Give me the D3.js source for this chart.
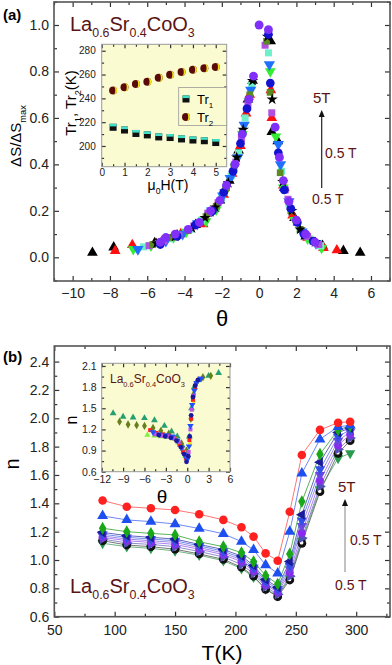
<!DOCTYPE html>
<html>
<head>
<meta charset="utf-8">
<script src="https://cdnjs.cloudflare.com/ajax/libs/d3/7.8.5/d3.min.js"></script>
<style>
body { margin: 0; background: #fff; }
svg text { font-family: "Liberation Sans", Arial, sans-serif; }
</style>
</head>
<body>
<div id="chart"></div>
<script>
var svgWidth = 392;
var svgHeight = 665;

// ---------- panel (a): dS/dSmax vs theta, one array per field ----------
var fieldsA = ["0.5T", "1T", "1.5T", "2T", "2.5T", "3T", "3.5T", "4T", "4.5T", "5T"];
var a05 = [[-8.94,0.02],[-7.8,0.043],[-5.6,0.062],[-4.4,0.095],[-3.4,0.14],[-2.7,0.19],[-2.1,0.245],[-1.6,0.33],[-1.1,0.46],[-0.6,0.68],[-0.35,0.76],[0.62,0.93],[0.68,0.54],[1.0,0.5],[1.35,0.3],[1.9,0.17],[2.5,0.09],[3.4,0.05],[4.52,0.028],[5.42,0.02]];
var a1 = [[-7.72,0.028],[-6.8,0.053],[-5.2,0.07],[-4.2,0.1],[-3.0,0.143],[-2.4,0.21],[-1.9,0.27],[-1.45,0.36],[-1.0,0.48],[-0.7,0.62],[-0.5,0.7],[0.63,0.72],[0.68,0.6],[1.3,0.31],[1.8,0.18],[2.6,0.085],[3.45,0.04],[4.17,0.031]];
var a15 = [[-6.75,0.035],[-5.8,0.05],[-4.6,0.085],[-3.9,0.11],[-2.85,0.155],[-2.3,0.205],[-1.85,0.28],[-1.3,0.39],[-0.9,0.53],[-0.55,0.67],[0.6,0.8],[0.9,0.52],[1.3,0.3],[1.9,0.16],[2.6,0.08],[3.35,0.04]];
var a2 = [[-6.2,0.045],[-5.4,0.06],[-4.8,0.08],[-3.7,0.12],[-3.1,0.16],[-2.6,0.2],[-2.0,0.255],[-1.5,0.35],[-1.1,0.45],[-0.75,0.6],[-0.4,0.74],[0.5,0.88],[0.86,0.56],[1.2,0.37],[1.6,0.23],[2.2,0.12],[2.85,0.07],[3.3,0.05]];
var a25 = [[-6.5,0.035],[-5.0,0.07],[-4.1,0.1],[-3.3,0.145],[-2.55,0.2],[-1.95,0.265],[-1.55,0.34],[-1.15,0.43],[-0.8,0.57],[-0.45,0.72],[0.55,0.83],[1.03,0.487],[1.15,0.4],[1.6,0.24],[2.3,0.11],[3.05,0.06]];
var a3 = [[-5.9,0.05],[-5.1,0.07],[-4.3,0.095],[-3.5,0.135],[-2.75,0.19],[-2.2,0.235],[-1.75,0.3],[-1.25,0.41],[-0.95,0.51],[-0.6,0.66],[0.32,0.913],[0.68,0.622],[1.4,0.29],[1.55,0.25],[2.0,0.15],[2.6,0.09],[3.2,0.055]];
var a35 = [[-5.7,0.055],[-4.7,0.085],[-3.8,0.115],[-2.85,0.175],[-2.3,0.22],[-1.8,0.295],[-1.35,0.385],[-0.9,0.54],[-0.5,0.7],[0.4,0.93],[0.59,0.71],[1.13,0.364],[1.7,0.2],[2.2,0.12],[2.9,0.07]];
var a4 = [[-5.5,0.06],[-4.5,0.09],[-3.6,0.125],[-2.9,0.17],[-2.35,0.215],[-1.65,0.32],[-1.2,0.43],[-0.85,0.55],[-0.35,0.76],[0.45,0.95],[0.7,0.68],[1.27,0.325],[1.75,0.2],[2.2,0.12],[3.0,0.065]];
var a45 = [[-5.3,0.055],[-4.4,0.09],[-3.4,0.14],[-2.5,0.2],[-1.9,0.28],[-1.4,0.37],[-1.0,0.49],[-0.65,0.64],[0.5,0.96],[0.6,0.75],[1.03,0.45],[1.35,0.29],[1.7,0.21],[2.05,0.15],[2.4,0.1],[2.9,0.07]];
var a5 = [[-5.3,0.065],[-5.0,0.085],[-4.5,0.1],[-3.8,0.12],[-3.2,0.15],[-2.6,0.2],[-2.1,0.245],[-1.75,0.31],[-1.3,0.4],[-0.9,0.53],[-0.55,0.68],[-0.3,0.78],[0,1.0],[0.5,0.98],[0.86,0.56],[1.09,0.43],[1.3,0.33],[1.6,0.24],[2.0,0.16],[2.5,0.1],[3.0,0.065]];

// inset (a): transition temperatures vs field
var fieldH = [0.5, 1, 1.5, 2, 2.5, 3, 3.5, 4, 4.5, 5];
var tr1 = [215.7, 213.4, 210.5, 209.3, 207.6, 207.1, 205.9, 205.0, 204.4, 202.9];
var tr2 = [246.5, 249.3, 252.1, 254.0, 257.4, 259.9, 262.2, 264.1, 265.3, 266.4];

// ---------- panel (b): n vs T ----------
var tempB = [90, 110, 130, 150, 170, 190, 205, 215, 225, 235, 245, 255, 270, 285, 295];
var b5T  = [1.42,1.376,1.365,1.353,1.323,1.283,1.231,1.165,1.047,0.995,1.341,1.741,1.918,1.969,1.976];
var b45T = [1.311,1.283,1.271,1.254,1.222,1.185,1.13,1.071,0.965,0.906,1.2,1.612,1.852,1.94,1.95];
var b4T  = [1.224,1.2,1.188,1.177,1.129,1.094,1.052,0.988,0.89,0.83,1.043,1.412,1.746,1.918,1.946];
var b35T = [1.195,1.172,1.16,1.148,1.11,1.074,1.028,0.962,0.862,0.808,0.99,1.32,1.69,1.9,1.93];
var b3T  = [1.182,1.16,1.148,1.136,1.1,1.062,1.015,0.948,0.85,0.795,0.96,1.28,1.64,1.87,1.92];
var b25T = [1.17,1.148,1.136,1.124,1.088,1.05,1.002,0.935,0.836,0.782,0.935,1.24,1.6,1.84,1.905];
var b2T  = [1.16,1.136,1.124,1.11,1.076,1.038,0.988,0.922,0.824,0.772,0.91,1.19,1.56,1.81,1.885];
var b15T = [1.148,1.12,1.11,1.094,1.06,1.022,0.968,0.905,0.81,0.757,0.885,1.155,1.52,1.78,1.86];
var b1T  = [1.118,1.094,1.082,1.064,1.034,0.995,0.94,0.88,0.796,0.748,0.872,1.135,1.5,1.718,1.753];
var b05T = [1.136,1.106,1.094,1.076,1.043,1.005,0.949,0.887,0.793,0.741,0.859,1.118,1.482,1.753,1.842];

// inset (b): n vs theta
var ibTri = [[-10.4,1.43],[-9.0,1.38],[-7.6,1.37],[-6.0,1.36],[-4.6,1.33],[-3.2,1.25],[-2.2,1.17],[-1.4,1.1],[-0.7,0.97],[0.3,1.1],[0.6,1.5],[1.0,1.8],[1.6,1.9],[3.0,1.96],[4.4,2.0]];
var ibDia = [[-9.5,1.31],[-8.3,1.27],[-7.1,1.26],[-6.0,1.25],[-4.8,1.22],[-3.7,1.18],[-2.6,1.14],[-1.7,1.07],[-0.8,1.0],[-0.1,0.9],[0.5,1.35],[0.9,1.7],[1.4,1.88],[2.2,1.94],[3.3,1.96]];
var ibRed = [[-5.2,1.19],[-4.3,1.15],[-3.4,1.13],[-2.5,1.11],[-1.8,1.07],[-1.1,0.98],[-0.6,0.88],[-0.2,0.79],[0.3,1.05],[0.55,1.35],[0.8,1.62],[1.1,1.8],[1.5,1.9]];
var ibBlue = [[-4.8,1.16],[-3.9,1.13],[-3.0,1.12],[-2.1,1.1],[-1.4,1.04],[-0.8,0.94],[-0.35,0.84],[0.0,0.77],[0.25,0.96],[0.45,1.25],[0.7,1.55],[1.0,1.75],[1.3,1.86],[1.9,1.92]];
var ibMag = [[-4.5,1.13],[-3.6,1.11],[-2.8,1.1],[-1.9,1.08],[-1.2,1.02],[-0.7,0.93],[-0.3,0.83],[0.2,0.88],[0.45,1.2],[0.65,1.48],[0.9,1.68],[1.2,1.84],[1.7,1.92]];
var ibNavy = [[-4.0,1.12],[-3.1,1.1],[-2.3,1.08],[-1.5,1.04],[-0.9,0.95],[-0.45,0.85],[-0.1,0.74],[0.15,0.82],[0.35,1.1],[0.55,1.4],[0.8,1.66],[1.1,1.82],[1.5,1.9]];
var ibLime = [[-5.6,1.12],[-4.6,1.11],[-3.7,1.1],[-2.8,1.09],[-2.0,1.07],[-1.3,1.01],[-0.7,0.92],[-0.3,0.82]];
var ibYellow = [[-3.3,1.14],[-1.6,1.06],[-0.5,0.88],[0.4,1.0],[0.9,1.6]];

// ---------- helpers ----------
var svg = d3.select("#chart").append("svg")
  .attr("width", svgWidth)
  .attr("height", svgHeight);

var dark = "#5a1414";

var symbols = {
  circle: [d3.symbolCircle, 0], tri: [d3.symbolTriangle, 0], triDown: [d3.symbolTriangle, 180],
  triLeft: [d3.symbolTriangle, -90], triRight: [d3.symbolTriangle, 90],
  square: [d3.symbolSquare, 0], diamond: [d3.symbolDiamond, 0], star: [d3.symbolStar, 0]
};

function marks(g, data, xs, ys, sym, color, size) {
  var s = symbols[sym] || symbols.circle;
  g.selectAll(null).data(data).enter().append("path")
    .attr("d", d3.symbol().type(s[0]).size(size))
    .attr("transform", d => `translate(${xs(d[0])},${ys(d[1])}) rotate(${s[1]})`)
    .attr("fill", color);
}

function rich(t, parts, fs) {
  var shift = 0;
  parts.forEach(function(p) {
    var s = p[1] ? fs * 0.3 : 0;
    t.append("tspan").attr("dy", s - shift).attr("font-size", p[1] ? fs * 0.62 : fs).text(p[0]);
    shift = s;
  });
}

function axes(g, x, y, w, h, o) {
  var tl = o.tick, ml = o.tick * 0.6;
  var add = function(ax, tr) {
    var a = g.append("g").attr("transform", tr).call(ax);
    a.select(".domain").remove();
    a.selectAll("line").attr("stroke", "#333").attr("stroke-width", 1.2);
    a.selectAll("text").attr("font-size", o.fs).attr("font-family", "Liberation Sans, Arial, sans-serif").attr("fill", "#222");
    return a;
  };
  add(d3.axisBottom(x).tickValues(o.xt).tickSizeInner(-tl).tickSizeOuter(0).tickPadding(o.xpad).tickFormat(o.xf || d3.format("d")), `translate(0,${h})`);
  add(d3.axisBottom(x).tickValues(o.xm).tickSizeInner(-ml).tickSizeOuter(0).tickFormat(""), `translate(0,${h})`);
  add(d3.axisTop(x).tickValues(o.xt).tickSizeInner(-tl).tickSizeOuter(0).tickFormat(""), "translate(0,0)");
  add(d3.axisTop(x).tickValues(o.xm).tickSizeInner(-ml).tickSizeOuter(0).tickFormat(""), "translate(0,0)");
  add(d3.axisLeft(y).tickValues(o.yt).tickSizeInner(-tl).tickSizeOuter(0).tickPadding(o.ypad).tickFormat(o.yf), "translate(0,0)");
  add(d3.axisLeft(y).tickValues(o.ym).tickSizeInner(-ml).tickSizeOuter(0).tickFormat(""), "translate(0,0)");
  add(d3.axisRight(y).tickValues(o.yt).tickSizeInner(-tl).tickSizeOuter(0).tickFormat(""), `translate(${w},0)`);
  add(d3.axisRight(y).tickValues(o.ym).tickSizeInner(-ml).tickSizeOuter(0).tickFormat(""), `translate(${w},0)`);
  g.append("rect").attr("width", w).attr("height", h)
    .attr("fill", "none").attr("stroke", o.frame || "#555").attr("stroke-width", o.fw || 1.6);
}

function arrow(x, y1, y2, color) {
  svg.append("line").attr("x1", x).attr("x2", x).attr("y1", y1).attr("y2", y2 + 5)
    .attr("stroke", color).attr("stroke-width", 1.2);
  svg.append("path").attr("d", `M${x},${y2} L${x - 3},${y2 + 7} L${x + 3},${y2 + 7} Z`).attr("fill", "#111");
}

function label(x, y, txt, fs) {
  svg.append("text").attr("x", x).attr("y", y).attr("font-size", fs).attr("fill", dark).text(txt);
}

// ================= panel (a) =================
var aW = 336, aH = 279;
var gA = svg.append("g").attr("transform", "translate(54,2)");
var xA = d3.scaleLinear().domain([-11, 7.02]).range([0, aW]);
var yA = d3.scaleLinear().domain([-0.102, 1.099]).range([aH, 0]);

axes(gA, xA, yA, aW, aH, {
  tick: 5, fs: 14, xpad: 7, ypad: 5,
  xt: d3.range(-10, 7, 2), xm: d3.range(-11, 8, 2),
  yt: d3.range(0, 1.01, 0.2), ym: d3.range(-0.1, 1.1, 0.2),
  yf: d3.format(".1f")
});

var aStyles = [
  { data: a05, sym: "tri", color: "#000000", size: 50 },
  { data: a1, sym: "tri", color: "#ff1010", size: 50 },
  { data: a15, sym: "triDown", color: "#33ee33", size: 50 },
  { data: a2, sym: "square", color: "#70f0c8", size: 49 },
  { data: a25, sym: "triDown", color: "#2070ff", size: 55 },
  { data: a3, sym: "square", color: "#b050e0", size: 49 },
  { data: a35, sym: "square", color: "#5a8a20", size: 45 },
  { data: a4, sym: "star", color: "#000000", size: 40 },
  { data: a45, sym: "circle", color: "#1414d0", size: 60 },
  { data: a5, sym: "circle", color: "#8030f8", size: 62 }
];
aStyles.forEach(s => marks(gA, s.data, xA, yA, s.sym, s.color, s.size));

svg.append("text").attr("x", 3).attr("y", 20).attr("font-family", "Liberation Serif, serif")
  .attr("font-weight", "bold").attr("font-size", 15).text("(a)");
rich(svg.append("text").attr("x", 70).attr("y", 31).attr("fill", dark),
  [["La"], ["0.6", 1], ["Sr"], ["0.4", 1], ["CoO"], ["3", 1]], 20);
rich(svg.append("text").attr("transform", "translate(21,136) rotate(-90)").attr("text-anchor", "middle"),
  [["\u0394S/\u0394S"], ["max", 1]], 15);
svg.append("text").attr("x", 222).attr("y", 326).attr("text-anchor", "middle")
  .attr("font-family", "Liberation Serif, serif").attr("font-size", 22).text("\u03b8");

arrow(321.7, 188, 110, "#222");
label(313, 103, "5T", 15);
label(325, 158, "0.5 T", 14);
label(312, 204, "0.5 T", 14);

// inset (a)
var iaW = 125, iaH = 122.4;
var gIA = svg.append("g").attr("transform", "translate(101.7,44.3)");
gIA.append("rect").attr("width", iaW).attr("height", iaH).attr("fill", "#fbfbd2");
var xIA = d3.scaleLinear().domain([0, 5.48]).range([0, iaW]);
var yIA = d3.scaleLinear().domain([182.6, 285.4]).range([iaH, 0]);
axes(gIA, xIA, yIA, iaW, iaH, {
  tick: 4, fs: 10, xpad: 2, ypad: 6,
  xt: d3.range(0, 5.1, 1), xm: d3.range(0.5, 5.5, 1),
  yt: d3.range(200, 281, 20), ym: d3.range(190, 285, 20),
  yf: d3.format("d"), frame: "#999", fw: 1
});

function tr1Mark(g, x, y) {
  g.append("rect").attr("x", x - 3.5).attr("y", y - 3.5).attr("width", 7).attr("height", 7).attr("fill", "#111");
  g.append("rect").attr("x", x - 3.5).attr("y", y - 3.5).attr("width", 7).attr("height", 2.6).attr("fill", "#40e0c8");
}
function tr2Mark(g, x, y) {
  g.append("circle").attr("cx", x).attr("cy", y).attr("r", 4).attr("fill", "#5a0a0a");
  g.append("path").attr("d", `M${x},${y - 4} A4,4 0 0 1 ${x},${y + 4} A2.2,4 0 0 0 ${x},${y - 4} Z`).attr("fill", "#f2e41a");
}
fieldH.forEach((h, i) => tr1Mark(gIA, xIA(h), yIA(tr1[i])));
fieldH.forEach((h, i) => tr2Mark(gIA, xIA(h), yIA(tr2[i])));

svg.append("rect").attr("x", 178.7).attr("y", 87.5).attr("width", 48).attr("height", 38)
  .attr("fill", "#fbfbd2").attr("stroke", "#999").attr("stroke-width", 0.8);
tr1Mark(svg, 186, 99);
tr2Mark(svg, 186, 117);
rich(svg.append("text").attr("x", 197).attr("y", 104), [["Tr"], ["1", 1]], 13);
rich(svg.append("text").attr("x", 197).attr("y", 122), [["Tr"], ["2", 1]], 13);

rich(svg.append("text").attr("transform", "translate(76,103) rotate(-90)").attr("text-anchor", "middle"),
  [["Tr"], ["1", 1], [", Tr"], ["2", 1], ["(K)"]], 15);
rich(svg.append("text").attr("x", 168).attr("y", 190).attr("text-anchor", "middle"),
  [["\u03bc"], ["0", 1], ["H(T)"]], 14);

// ================= panel (b) =================
var bW = 335.7, bH = 270.7;
var gB = svg.append("g").attr("transform", "translate(54.3,346)");
var xB = d3.scaleLinear().domain([50, 328]).range([0, bW]);
var yB = d3.scaleLinear().domain([0.6, 2.51]).range([bH, 0]);

axes(gB, xB, yB, bW, bH, {
  tick: 5, fs: 14, xpad: 8, ypad: 5,
  xt: d3.range(50, 301, 50), xm: d3.range(75, 330, 50),
  yt: d3.range(0.6, 2.41, 0.2), ym: d3.range(0.7, 2.5, 0.2),
  yf: d3.format(".1f")
});

var bStyles = [
  { vals: b1T, sym: "triDown", color: "#2a9a50", line: "#4aa060", size: 45 },
  { vals: b05T, sym: "ball", color: "#111111", line: "#555555", size: 55 },
  { vals: b15T, sym: "triRight", color: "#5050b8", line: "#7070c0", size: 45 },
  { vals: b2T, sym: "circle", color: "#8a2af0", line: "#9a60f0", size: 50 },
  { vals: b25T, sym: "triDown", color: "#6a48e0", line: "#8070e0", size: 45 },
  { vals: b3T, sym: "triDown", color: "#3050e8", line: "#5070e8", size: 45 },
  { vals: b35T, sym: "triLeft", color: "#1a1a9a", line: "#4040b0", size: 45 },
  { vals: b4T, sym: "diamond", color: "#18a818", line: "#30a030", size: 48 },
  { vals: b45T, sym: "tri", color: "#1e50f0", line: "#4a6af0", size: 52 },
  { vals: b5T, sym: "circle", color: "#ff2020", line: "#ff5050", size: 58 }
];

var lineB = d3.line().x(d => xB(d[0])).y(d => yB(d[1]));
bStyles.forEach(function(s) {
  var pts = tempB.map((t, i) => [t, s.vals[i]]);
  gB.append("path").datum(pts).attr("d", lineB).attr("fill", "none")
    .attr("stroke", s.line).attr("stroke-width", 0.8);
});
bStyles.forEach(function(s) {
  var pts = tempB.map((t, i) => [t, s.vals[i]]);
  if (s.sym === "ball") {
    pts.forEach(function(p) {
      gB.append("circle").attr("cx", xB(p[0])).attr("cy", yB(p[1])).attr("r", 4.4).attr("fill", s.color);
      gB.append("circle").attr("cx", xB(p[0]) - 0.3).attr("cy", yB(p[1]) - 0.6).attr("r", 1.9).attr("fill", "#fff");
    });
  } else {
    marks(gB, pts, xB, yB, s.sym, s.color, s.size);
  }
});

svg.append("text").attr("x", 3).attr("y", 362).attr("font-family", "Liberation Serif, serif")
  .attr("font-weight", "bold").attr("font-size", 15).text("(b)");
rich(svg.append("text").attr("x", 70).attr("y", 593).attr("fill", dark),
  [["La"], ["0.6", 1], ["Sr"], ["0.4", 1], ["CoO"], ["3", 1]], 20);
svg.append("text").attr("transform", "translate(19,464) rotate(-90)").attr("text-anchor", "middle")
  .attr("font-size", 20).text("n");
svg.append("text").attr("x", 222).attr("y", 660).attr("text-anchor", "middle")
  .attr("font-size", 21).text("T(K)");

arrow(345, 572, 499, "#999");
label(338, 492, "5T", 15);
label(350, 545, "0.5 T", 14);
label(335, 590, "0.5 T", 14);

// inset (b)
var ibW = 128.3, ibH = 108.4;
var gIB = svg.append("g").attr("transform", "translate(101.7,363.3)");
gIB.append("rect").attr("width", ibW).attr("height", ibH).attr("fill", "#fbfbd2");
var xIB = d3.scaleLinear().domain([-12, 6]).range([0, ibW]);
var yIB = d3.scaleLinear().domain([0.6, 2.138]).range([ibH, 0]);
axes(gIB, xIB, yIB, ibW, ibH, {
  tick: 4, fs: 10.5, xpad: 4, ypad: 5,
  xt: d3.range(-12, 7, 3), xm: d3.range(-10.5, 6, 3),
  yt: d3.range(0.6, 2.11, 0.3), ym: d3.range(0.75, 2.1, 0.3),
  yf: d3.format(".1f"), frame: "#999", fw: 1
});

var ibStyles = [
  { data: ibTri, sym: "tri", color: "#25a070", size: 20 },
  { data: ibDia, sym: "diamond", color: "#66801c", size: 20 },
  { data: ibLime, sym: "tri", color: "#80f040", size: 16 },
  { data: ibYellow, sym: "circle", color: "#e8e030", size: 14 },
  { data: ibRed, sym: "square", color: "#ff2020", size: 16 },
  { data: ibMag, sym: "square", color: "#c050e8", size: 16 },
  { data: ibBlue, sym: "triDown", color: "#2050ff", size: 18 },
  { data: ibNavy, sym: "circle", color: "#1a1aa0", size: 18 }
];
ibStyles.forEach(s => marks(gIB, s.data, xIB, yIB, s.sym, s.color, s.size));

rich(svg.append("text").attr("x", 110).attr("y", 383).attr("fill", dark),
  [["La"], ["0.6", 1], ["Sr"], ["0.4", 1], ["CoO"], ["3", 1]], 12);
svg.append("text").attr("transform", "translate(77,420) rotate(-90)").attr("text-anchor", "middle")
  .attr("font-size", 16).text("n");
svg.append("text").attr("x", 162).attr("y", 503).attr("text-anchor", "middle")
  .attr("font-family", "Liberation Serif, serif").attr("font-size", 19).text("\u03b8");
</script>
</body>
</html>
